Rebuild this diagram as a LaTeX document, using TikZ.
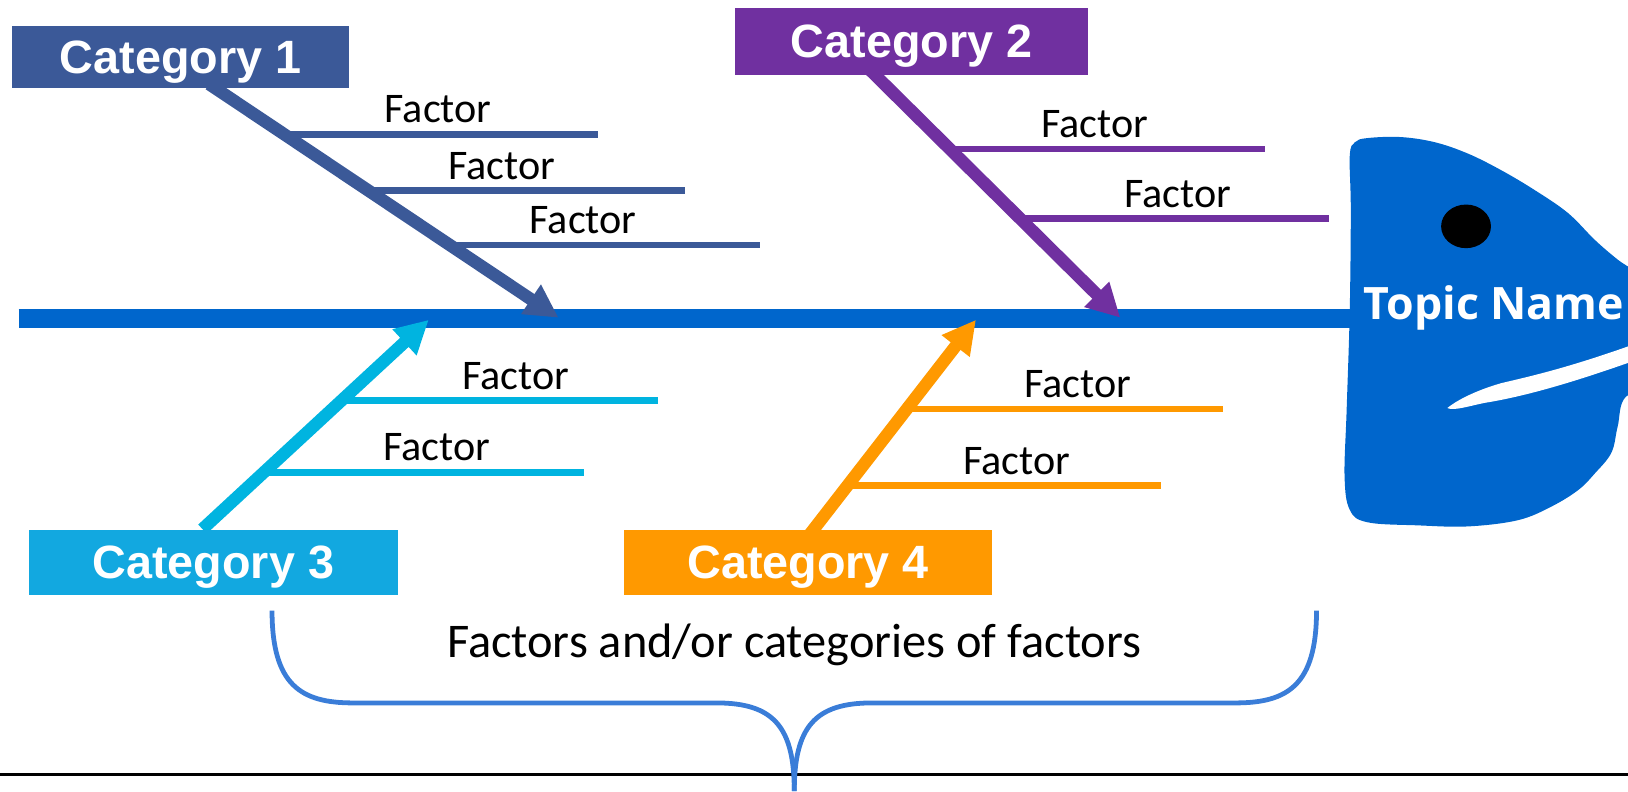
\documentclass[tikz,border=0pt]{standalone}
\usepackage{fontspec}
\setmainfont{Carlito}
\newfontfamily\catfont{Liberation Sans}
\newfontfamily\topicfont{Open Sans}
\usetikzlibrary{arrows.meta,backgrounds,positioning,calc}
\definecolor{kcol1}{RGB}{59,89,152}
\definecolor{kcol2}{RGB}{112,48,160}
\definecolor{kcol3}{RGB}{0,180,224}
\definecolor{kcol3box}{RGB}{18,168,224}
\definecolor{kcol4}{RGB}{255,153,0}
\definecolor{kspine}{RGB}{0,102,204}
\definecolor{kbrace}{RGB}{58,125,216}
\tikzset{
  catbox/.style={fill=#1,text=white,font=\catfont\bfseries\fontsize{22.5}{27}\selectfont,
    inner sep=0pt,text height=16.1pt,text depth=0.7pt},
  spine/.style={draw=kspine,line width=9pt},
  bone/.style={draw=#1,line width=6pt,-{Triangle[length=16pt,width=16pt]}},
  factor/.style={draw=#1,line width=3.2pt},
  flabel/.style={font=\fontsize{20.3}{24}\selectfont,above,inner sep=3.8pt},
  topic/.style={text=white,font=\topicfont\bfseries\fontsize{21.5}{26}\selectfont,inner sep=0pt},
  brace/.style={draw=kbrace,line width=2.3pt},
}
\begin{document}
\begin{tikzpicture}[x=0.5pt,y=-0.5pt]
\useasboundingbox (0,0) rectangle (1568,762);
\clip (0,0) rectangle (1568,762);
% category boxes
\node[catbox=kcol1,minimum width=162pt,minimum height=30pt] (c1) at (174,55) {Category 1};
\node[catbox=kcol2,minimum width=170pt,minimum height=32pt] (c2) at (878,40) {Category 2};
\node[catbox=kcol3box,minimum width=177.5pt,minimum height=31.5pt] (c3) at (205.5,541.5) {Category 3};
\node[catbox=kcol4,minimum width=177.5pt,minimum height=31.5pt,right=108.5pt of c3] (c4) {Category 4};
\coordinate (s1) at ($(c1.south)+(34,0)$);
\coordinate (s2) at ($(c2.south)+(-35,0)$);
\coordinate (s3) at ($(c3.north)+(-10.5,0)$);
\coordinate (s4) at ($(c4.north)+(5.5,0)$);
\coordinate (t1) at (538,306);
\coordinate (t2) at (1079,306);
\coordinate (t3) at (413,308);
\coordinate (t4) at (940,308);
\coordinate (tail) at (18,306.5);
\coordinate (neck) at (1310,306.5);
% spine and bones
\begin{scope}[on background layer]
\draw[spine] (tail) -- (neck);
\foreach \kc in {1,2,4}{\draw[bone=kcol\kc,shorten <=-4pt] (s\kc) -- (t\kc);}
\draw[bone=kcol3] (s3) -- (t3);
\end{scope}
% factors
\foreach \kc/\kn/\kt/\kxe/\kpos in {1/1/0.2/576/0.49,1/2/0.445/660/0.42,1/3/0.682/732/0.43,
  2/1/0.305/1218/0.46,2/2/0.592/1280/0.51,3/1/0.614/634/0.55,3/2/0.272/562/0.54,
  4/1/0.574/1178/0.54,4/2/0.208/1118/0.54}{
\coordinate (f\kc\kn) at ($(s\kc)!\kt!(t\kc)$);
\coordinate (e\kc\kn) at (\kxe,0);
\draw[factor=kcol\kc] (f\kc\kn) -- (f\kc\kn -| e\kc\kn) node[flabel,pos=\kpos]{Factor};
}
% head
\fill[kspine] plot[smooth cycle,tension=0.6] coordinates {(1300,150) (1305,137) (1317,133) (1349,132)
  (1382,137) (1414,148) (1446,164) (1478,183) (1510,205) (1536,231) (1558,250) (1590,275) (1600,320)
  (1600,370) (1566,382) (1558,411) (1552,436) (1536,456) (1520,472) (1494,488) (1462,501) (1414,507)
  (1366,506) (1317,503) (1300,491) (1295,459) (1297,395) (1300,299) (1301,202)};
\fill[white] (1394,393) .. controls (1405,384) and (1425,375) .. (1446,369)
  .. controls (1480,361) and (1520,352) .. (1600,322) -- (1600,338)
  .. controls (1540,360) and (1480,380) .. (1430,388) .. controls (1415,391) and (1400,396) .. cycle;
\fill[black] (1412,218) ellipse [x radius=12pt,y radius=10.5pt];
\node[topic,anchor=base] (topic) at (1439,308) {Topic Name};
% brace
\draw[line width=1.2pt] (0,746) -- (1568,746);
\node[anchor=base,font=\fontsize{23.3}{28}\selectfont] (note) at (765,633) {Factors and/or categories of factors};
\draw[brace] (262,588) .. controls (262,660) and (290,677) .. (340,677) -- (690,677)
  .. controls (745,677) and (765,700) .. (765,762);
\draw[brace] (1268,588) .. controls (1268,660) and (1240,677) .. (1190,677) -- (840,677)
  .. controls (785,677) and (765,700) .. (765,762);
\end{tikzpicture}
\end{document}
